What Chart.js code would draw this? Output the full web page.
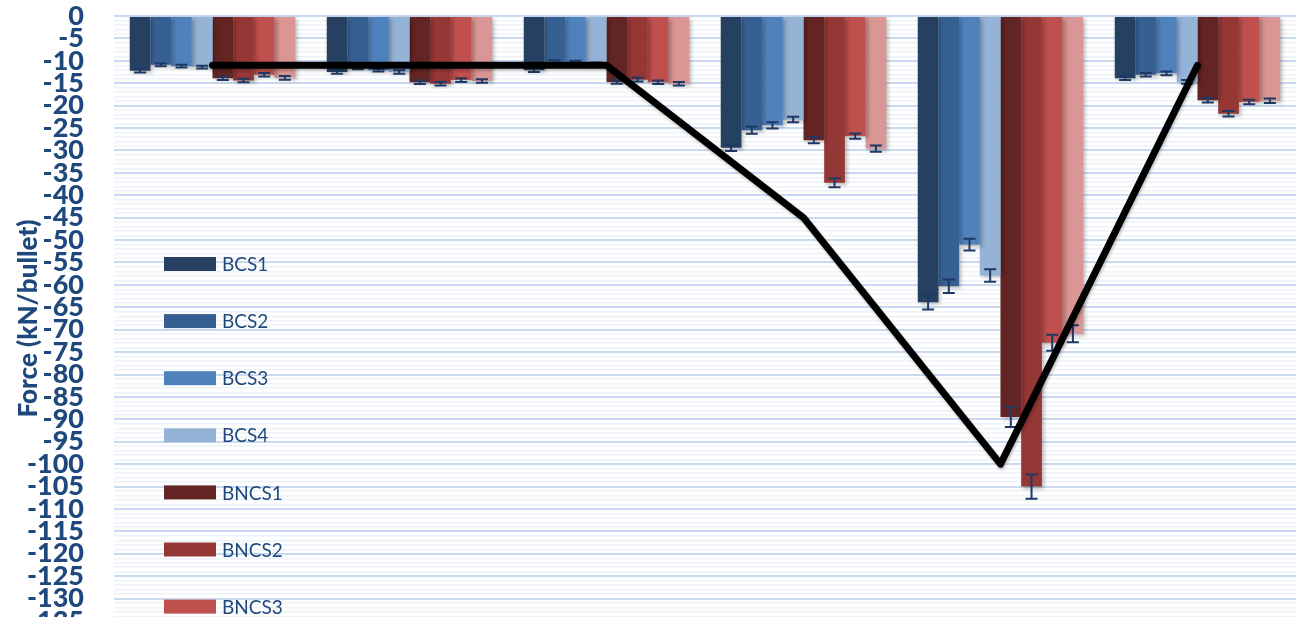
<!DOCTYPE html>
<html>
<head>
<meta charset="utf-8">
<script src="https://cdn.jsdelivr.net/npm/chart.js@4.4.1/dist/chart.umd.min.js"></script>
<style>
  html, body { margin: 0; padding: 0; background: #fff; overflow: hidden; }
  #wrap { position: relative; width: 1296px; height: 640px; }
</style>
</head>
<body>
<div id="wrap"><canvas id="grafica"></canvas></div>
<script>
// groups along the x axis (unlabelled in the figure)
const grupos = ["1", "2", "3", "4", "5", "6"];

const series = ["BCS1", "BCS2", "BCS3", "BCS4", "BNCS1", "BNCS2", "BNCS3", "BNCS4"];
const colores = ["#254061", "#376092", "#4F81BD", "#95B3D7", "#632523", "#953735", "#C0504D", "#D99694"];

// mean force per series (kN/bullet)
const bcs1  = [-12.2, -12.5, -12.1, -29.4, -63.9, -13.9];
const bcs2  = [-10.9, -11.6, -10.2, -25.5, -60.3, -13.1];
const bcs3  = [-11.2, -12.1, -10.3, -24.4, -51.0, -12.8];
const bcs4  = [-11.4, -12.5, -10.8, -23.1, -57.9, -14.7];
const bncs1 = [-13.9, -14.8, -14.7, -27.7, -89.5, -18.8];
const bncs2 = [-14.4, -15.1, -14.2, -37.2, -105.0, -21.8];
const bncs3 = [-13.1, -14.3, -14.8, -26.8, -72.9, -19.2];
const bncs4 = [-13.8, -14.5, -15.1, -29.6, -70.9, -18.9];

// standard deviation per series
const errBcs1  = [0.4, 0.4, 0.4, 0.7, 1.6, 0.4];
const errBcs2  = [0.3, 0.3, 0.3, 0.8, 1.5, 0.4];
const errBcs3  = [0.3, 0.3, 0.3, 0.7, 1.3, 0.4];
const errBcs4  = [0.3, 0.4, 0.4, 0.6, 1.4, 0.4];
const errBncs1 = [0.4, 0.4, 0.4, 0.7, 2.2, 0.5];
const errBncs2 = [0.4, 0.4, 0.4, 1.0, 2.7, 0.6];
const errBncs3 = [0.4, 0.4, 0.4, 0.6, 1.8, 0.5];
const errBncs4 = [0.4, 0.4, 0.4, 0.7, 1.9, 0.5];

// reference curve
const curva = [-11, -11, -11, -45, -100, -11];

const ticksY = { min: -135, max: 0, paso: 5 };

const valores = [bcs1, bcs2, bcs3, bcs4, bncs1, bncs2, bncs3, bncs4];
const errores = [errBcs1, errBcs2, errBcs3, errBcs4, errBncs1, errBncs2, errBncs3, errBncs4];

const azulTexto = "#1F497D";

// bar shadow + error bars after each bar dataset
const barrasError = {
  id: "barrasError",
  beforeDatasetDraw(chart, args) {
    const ds = chart.data.datasets[args.index];
    const ctx = chart.ctx;
    ctx.save();
    if (ds.type === "bar") {
      ctx.shadowColor = "rgba(0,0,0,0.28)";
      ctx.shadowBlur = 4;
      ctx.shadowOffsetX = 2;
      ctx.shadowOffsetY = 2;
    } else {
      ctx.shadowColor = "rgba(0,0,0,0.25)";
      ctx.shadowBlur = 3;
      ctx.shadowOffsetX = 1;
      ctx.shadowOffsetY = 2;
    }
  },
  afterDatasetDraw(chart, args) {
    const ctx = chart.ctx;
    ctx.restore();
    const ds = chart.data.datasets[args.index];
    if (ds.type !== "bar" || !ds.errores) return;
    const y = chart.scales.y;
    ctx.save();
    ctx.strokeStyle = "#1F3864";
    ctx.lineWidth = 2;
    args.meta.data.forEach((bar, i) => {
      const v = ds.data[i], e = ds.errores[i];
      const y1 = y.getPixelForValue(v + e), y2 = y.getPixelForValue(v - e);
      const x = bar.x, c = 6;
      ctx.beginPath();
      ctx.moveTo(x, y1); ctx.lineTo(x, y2);
      ctx.moveTo(x - c, y1); ctx.lineTo(x + c, y1);
      ctx.moveTo(x - c, y2); ctx.lineTo(x + c, y2);
      ctx.stroke();
    });
    ctx.restore();
  }
};

// legend stacked inside the plot on the left
const leyendaInterna = {
  id: "leyendaInterna",
  afterDraw(chart) {
    const ctx = chart.ctx;
    ctx.save();
    ctx.font = "19px Lato";
    ctx.textBaseline = "middle";
    ctx.textAlign = "left";
    chart.data.datasets.filter(d => d.type === "bar").forEach((d, i) => {
      const yc = 264 + i * 57.1;
      ctx.fillStyle = d.backgroundColor;
      ctx.fillRect(164, yc - 7, 52, 14);
      ctx.fillStyle = azulTexto;
      ctx.fillText(d.label, 222, yc + 1);
    });
    ctx.restore();
  }
};

const datasets = [{
  type: "line",
  label: "",
  data: curva,
  borderColor: "#000",
  borderWidth: 7,
  pointRadius: 0,
  tension: 0,
  borderJoinStyle: "round",
  borderCapStyle: "round",
  order: -1
}];

series.forEach((nombre, i) => {
  datasets.push({
    type: "bar",
    label: nombre,
    data: valores[i],
    errores: errores[i],
    backgroundColor: colores[i],
    borderWidth: 0,
    categoryPercentage: 0.84,
    barPercentage: 1.0
  });
});

const ctx = document.getElementById("grafica").getContext("2d");
window.grafica = new Chart(ctx, {
  data: { labels: grupos, datasets: datasets },
  options: {
    responsive: true,
    maintainAspectRatio: false,
    animation: false,
    layout: { padding: { top: 16, bottom: 19, left: 0, right: 0 } },
    plugins: {
      legend: { display: false },
      tooltip: { enabled: false }
    },
    scales: {
      x: {
        display: false,
        grid: { display: false }
      },
      y: {
        min: ticksY.min,
        max: ticksY.max,
        afterFit: scale => {
          scale.width = 114;
          scale.paddingTop = 0;
          scale.paddingBottom = 0;
        },
        border: { display: false },
        grid: {
          drawTicks: false,
          color: c => (c.tick && c.tick.value % ticksY.paso === 0) ? "#C9DAF0" : "#EEF3FA",
          lineWidth: c => (c.tick && c.tick.value % ticksY.paso === 0) ? 2 : 1.5
        },
        ticks: {
          stepSize: 1,
          autoSkip: false,
          padding: 30,
          color: azulTexto,
          font: { family: "Lato", weight: 900, size: 27, lineHeight: 1 },
          callback: v => v % ticksY.paso === 0 ? String(v) : ""
        },
        title: {
          display: true,
          text: "Force (kN/bullet)",
          color: azulTexto,
          font: { family: "Lato", weight: 900, size: 26 },
          padding: { top: 13, bottom: 0 }
        }
      }
    }
  },
  plugins: [barrasError, leyendaInterna]
});
</script>
</body>
</html>
